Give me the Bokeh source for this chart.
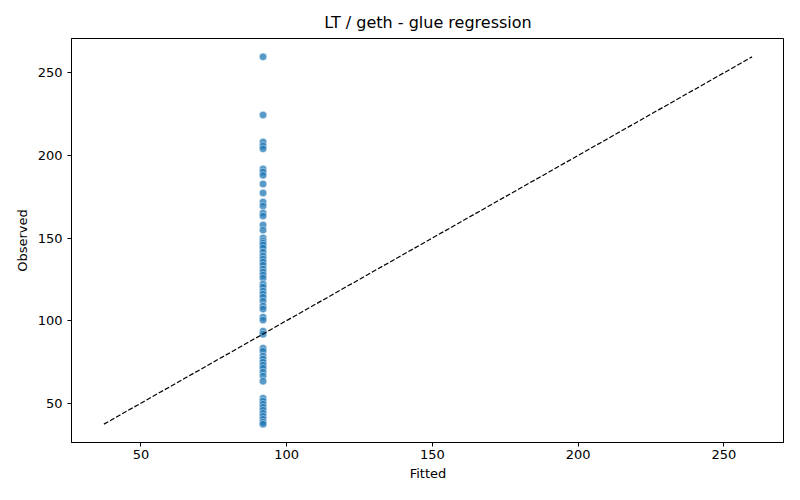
from bokeh.plotting import figure
from bokeh.models import Range1d, FixedTicker, ColumnDataSource
from bokeh.embed import file_html
from bokeh.resources import INLINE

observed = [259.7, 224.5, 208.2, 205.8, 204.0, 191.8, 190.0, 188.0, 182.7, 177.3,
            171.8, 169.4, 165.2, 163.3, 157.9, 154.8, 150.0, 148.2, 147.0, 145.8,
            144.0, 141.5, 139.1, 137.3, 135.5, 133.6, 131.2, 129.4, 127.6, 125.8,
            122.1, 120.3, 117.9, 116.1, 114.2, 111.8, 108.8, 107.0, 102.1, 100.3,
            93.6, 91.8, 83.3, 81.5, 78.5, 76.7, 74.8, 73.0, 71.2, 68.8, 66.4, 63.3,
            53.0, 51.2, 49.4, 47.6, 45.8, 43.9, 42.1, 40.3, 38.5, 37.3]
fitted_value = 91.9
fitted = [fitted_value] * len(observed)
x_ticks = [50, 100, 150, 200, 250]
y_ticks = [50, 100, 150, 200, 250]

lo = min(min(observed), min(fitted))
hi = max(max(observed), max(fitted))
pad = (hi - lo) * 0.05

p = figure(width=784, height=484, output_backend="svg", toolbar_location=None,
           x_range=Range1d(lo - pad, hi + pad), y_range=Range1d(lo - pad, hi + pad),
           min_border_left=71, min_border_right=0, min_border_top=38, min_border_bottom=42)
p.title.text = "LT / geth - glue regression"
p.title.align = "center"
p.title.text_font = "DejaVu Sans"
p.title.text_font_size = "16px"
p.title.text_font_style = "normal"
p.title.text_color = "black"
p.title.standoff = 14

p.xgrid.visible = False
p.ygrid.visible = False
p.outline_line_color = "black"
p.outline_line_width = 1
p.background_fill_color = "white"
p.border_fill_color = "white"

for ax, ticks in ((p.xaxis, x_ticks), (p.yaxis, y_ticks)):
    ax.ticker = FixedTicker(ticks=ticks)
    ax.minor_tick_line_color = None
    ax.major_tick_in = 0
    ax.major_tick_out = 4
    ax.major_tick_line_color = "black"
    ax.axis_line_color = "black"
    ax.major_label_text_font = "DejaVu Sans"
    ax.major_label_text_font_size = "13px"
    ax.major_label_text_color = "black"
    ax.axis_label_text_font = "DejaVu Sans"
    ax.axis_label_text_font_size = "13px"
    ax.axis_label_text_font_style = "normal"
    ax.axis_label_text_color = "black"
p.xaxis.major_label_standoff = 3
p.xaxis.axis_label_standoff = 4
p.xaxis.axis_label = "Fitted"
p.yaxis.axis_label = "Observed"
p.yaxis.major_label_orientation = "horizontal"

src = ColumnDataSource(dict(x=fitted, y=observed))
p.scatter("x", "y", source=src, size=7.5, fill_color="#1f77b4", fill_alpha=0.75,
          line_color="white", line_width=0.6, line_alpha=0.75)
p.line([lo, hi], [lo, hi], line_color="black", line_dash="5 2", line_width=1.2)

open("out.html", "w").write(file_html(p, INLINE))
